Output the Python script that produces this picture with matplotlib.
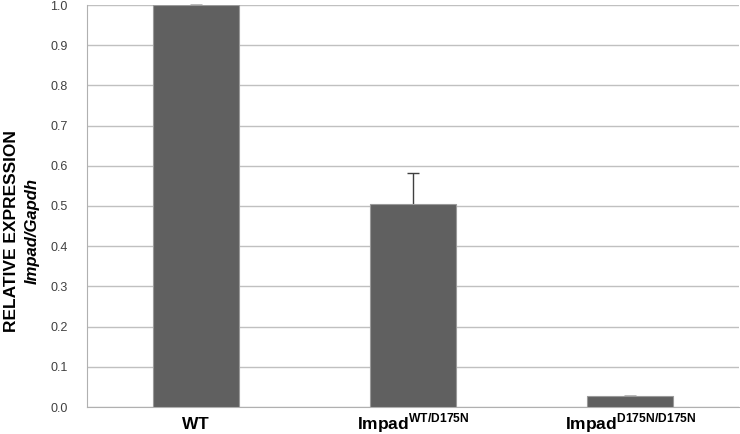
import numpy as np
import matplotlib.pyplot as plt
from matplotlib.transforms import blended_transform_factory

plt.rcParams['font.family'] = ['Liberation Sans', 'DejaVu Sans']
plt.rcParams['mathtext.fontset'] = 'custom'
plt.rcParams['mathtext.rm'] = 'Liberation Sans'
plt.rcParams['mathtext.bf'] = 'Liberation Sans:bold'

# data
genotypes = [r"$\mathbf{WT}$",
             r"$\mathbf{Impad}^{\mathbf{WT/D175N}}$",
             r"$\mathbf{Impad}^{\mathbf{D175N/D175N}}$"]
expression = [1.0, 0.505, 0.027]
errors = [0.001, 0.076, 0.0]
yticks = [0.0, 0.1, 0.2, 0.3, 0.4, 0.5, 0.6, 0.7, 0.8, 0.9, 1.0]

fig = plt.figure(figsize=(7.4, 4.34), dpi=100)
ax = fig.add_axes([87/740, 1 - 407/434, 652/740, 402/434])

x = np.arange(len(genotypes))
ax.bar(x, expression, width=0.395, color='#606060', edgecolor='#9a9a9a',
       linewidth=0.8, zorder=3)
# symmetric bars; lower half hidden behind the bar like the original
ax.errorbar(x, expression, yerr=errors, fmt='none', ecolor='#404040',
            elinewidth=1, capsize=4, capthick=1, zorder=2, clip_on=False)

ax.set_xlim(-0.5, len(genotypes) - 0.5)
ax.set_ylim(0, 1.0)
ax.set_yticks(yticks)
ax.set_yticklabels(["%.1f" % v for v in yticks], fontsize=9, color='#404040')
ax.set_xticks(x)
ax.set_xticklabels([])
ax.tick_params(length=0)
ax.tick_params(axis='y', pad=14)

trans = blended_transform_factory(ax.transData, fig.transFigure)
for xi, lab in zip(x, genotypes):
    ax.text(xi, 1 - 429/434, lab, transform=trans, ha='center', va='baseline',
            fontsize=12.5)

ax.grid(axis='y', color='#c0c0c0', linewidth=1, zorder=0)
for s in ['top', 'right']:
    ax.spines[s].set_visible(False)
ax.spines['left'].set_color('#b0b0b0')
ax.spines['bottom'].set_color('#b0b0b0')

fig.text(12/740, 1 - 231/434, "RELATIVE EXPRESSION", rotation=90, ha='center',
         va='center', fontsize=12.5, fontweight='bold')
fig.text(32/740, 1 - 231/434, "Impad/Gapdh", rotation=90, ha='center',
         va='center', fontsize=12, fontweight='bold', style='italic')

fig.savefig('out.png', dpi=100)
